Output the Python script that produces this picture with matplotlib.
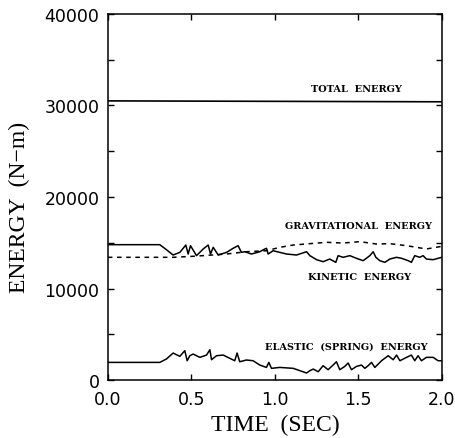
import numpy as np
import matplotlib
matplotlib.use('Agg')
from matplotlib import pyplot as plt
from matplotlib.ticker import MultipleLocator

# energy histories (time in sec, energy in N-m)
total_t = [0.0, 2.0]
total_e = [30500, 30400]

kinetic_t = [0.0, 0.311, 0.351, 0.391, 0.431, 0.467, 0.481, 0.495, 0.531, 0.571,
             0.601, 0.615, 0.631, 0.661, 0.711, 0.750, 0.780, 0.800, 0.820, 0.860,
             0.910, 0.940, 0.950, 0.960, 0.990, 1.070, 1.130, 1.190, 1.210, 1.250,
             1.289, 1.329, 1.365, 1.379, 1.409, 1.449, 1.489, 1.529, 1.569, 1.589,
             1.605, 1.629, 1.659, 1.689, 1.729, 1.759, 1.799, 1.818, 1.838, 1.868,
             1.888, 1.908, 1.948, 2.0]
kinetic_e = [14790, 14790, 14240, 13660, 13950, 14750, 13770, 14680, 13590, 14320,
             14750, 13770, 14500, 13660, 13950, 14390, 14680, 13950, 14020, 13770,
             14020, 14320, 14390, 13770, 14130, 13770, 13660, 14020, 13590, 13150,
             12930, 13220, 12860, 13590, 13410, 13590, 13300, 13040, 13590, 14020,
             13410, 13040, 12860, 13220, 13410, 13300, 13040, 12860, 13590, 13410,
             13590, 13220, 13150, 13410]

grav_t = [0.0, 0.391, 0.511, 0.711, 0.830, 0.950, 1.030, 1.110, 1.210, 1.309,
          1.409, 1.509, 1.609, 1.689, 1.789, 1.908, 2.0]
grav_e = [13410, 13410, 13520, 13770, 14020, 14130, 14500, 14750, 14900, 15050,
          14970, 15120, 14860, 14900, 14680, 14320, 14610]

elastic_t = [0.0, 0.311, 0.351, 0.391, 0.431, 0.461, 0.475, 0.491, 0.511, 0.551,
             0.591, 0.611, 0.621, 0.651, 0.691, 0.731, 0.760, 0.774, 0.790, 0.830,
             0.870, 0.910, 0.950, 0.964, 0.980, 1.030, 1.110, 1.190, 1.210, 1.230,
             1.260, 1.289, 1.319, 1.349, 1.369, 1.389, 1.419, 1.439, 1.459, 1.489,
             1.519, 1.539, 1.559, 1.579, 1.599, 1.639, 1.679, 1.709, 1.729, 1.749,
             1.789, 1.818, 1.838, 1.858, 1.878, 1.908, 1.948, 1.978, 2.0]
elastic_e = [1930, 1930, 2300, 2950, 2590, 3210, 2110, 2660, 2840, 2480,
             2730, 3310, 2220, 2660, 2730, 2370, 2110, 2950, 2000, 2190,
             2110, 1640, 1380, 1930, 1280, 1380, 1280, 770, 1020, 1200,
             910, 1570, 1130, 1640, 2000, 1130, 1490, 1860, 1130, 1490,
             1640, 1280, 1570, 1930, 1380, 2110, 2660, 2220, 2730, 2110,
             2480, 2730, 2110, 2660, 2110, 2480, 2480, 2110, 2110]

labels = ['TOTAL  ENERGY', 'GRAVITATIONAL  ENERGY', 'KINETIC  ENERGY',
          'ELASTIC  (SPRING)  ENERGY']
label_t = [1.49, 1.50, 1.51, 1.43]
label_e = [31800, 16900, 11300, 3700]

fig = plt.figure(figsize=(4.55, 4.39), dpi=100)
ax = fig.add_axes([0.237, 0.132, 0.734, 0.834])

ax.plot(total_t, total_e, color='black', lw=1.2)
ax.plot(kinetic_t, kinetic_e, color='black', lw=1.1)
ax.plot(grav_t, grav_e, color='black', lw=1.1, linestyle=(0, (3, 3)))
ax.plot(elastic_t, elastic_e, color='black', lw=1.1)

for txt, t, e in zip(labels, label_t, label_e):
    ax.text(t, e, txt, ha='center', va='center', fontsize=7,
            fontweight='bold', family='DejaVu Serif')

ax.set_xlim(0, 2.0)
ax.set_ylim(0, 40000)
ax.xaxis.set_major_locator(MultipleLocator(0.5))
ax.xaxis.set_major_formatter(plt.FormatStrFormatter('%.1f'))
ax.yaxis.set_major_locator(MultipleLocator(10000))
ax.yaxis.set_minor_locator(MultipleLocator(5000))
ax.tick_params(which='both', direction='in', top=True, right=True,
               labelsize=12.5, length=4, width=1)
ax.tick_params(axis='x', pad=7)
ax.tick_params(axis='y', pad=6)
for sp in ax.spines.values():
    sp.set_linewidth(1.1)

ax.set_xlabel('TIME  (SEC)', family='Liberation Serif', fontsize=17)
ax.set_ylabel('ENERGY  (N\u2212m)', family='Liberation Serif', fontsize=17)
ax.xaxis.set_label_coords(0.5, -0.092)
ax.yaxis.set_label_coords(-0.234, 0.475)

fig.savefig('out.png', dpi=100)
